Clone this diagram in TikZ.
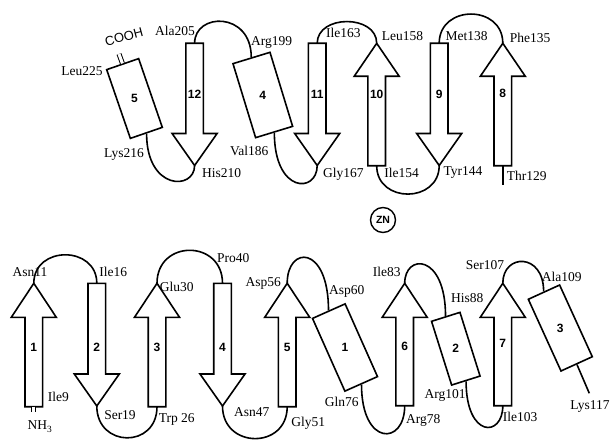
\documentclass[tikz,border=0pt]{standalone}
\usepackage{fontspec}
\setmainfont{Liberation Serif}
\setsansfont{Liberation Sans}
\usetikzlibrary{positioning}

\begin{document}
\begin{tikzpicture}[x=1pt, y=-1pt, line width=1.6pt,
        font=\fontsize{13.5}{15}\selectfont,
        lbl/.style={inner sep=0pt},
        num/.style={inner sep=0pt, font=\sffamily\bfseries\fontsize{12}{14}\selectfont},
        helix/.style={draw, inner sep=0pt},
        loop/.style={line join=round},
        stub/.style={double, line width=1pt, double distance=3pt}]
        \useasboundingbox (0,0) rectangle (610,441);
        % strands pointing down
        \foreach \n/\cx/\yt/\yb/\hl/\ly in {12/194.6/43.3/165.5/32/94, 11/317.2/43.3/165.5/32/94,
                9/439.2/43.3/165.5/32/94, 2/96.8/283.3/406/32/347, 4/222.5/283.3/406/32/347} {
            \draw ({\cx-8.8},\yt) -- ({\cx+8.8},\yt) -- ({\cx+8.8},{\yb-\hl}) -- ({\cx+22.5},{\yb-\hl})
                -- (\cx,\yb) -- ({\cx-22.5},{\yb-\hl}) -- ({\cx-8.8},{\yb-\hl}) -- cycle;
            \coordinate (s\n-t) at (\cx,\yt);
            \coordinate (s\n-b) at (\cx,\yb);
            \node[num] (n-s\n) at (\cx,\ly) {\n};
        }
        % strands pointing up
        \foreach \n/\cx/\yt/\yb/\hl/\ly in {10/376.7/43.3/165.7/33/94, 8/502.8/43.3/165.7/33/93,
                1/33.8/283.3/406.7/34/347, 3/157/283.3/406.7/34/347, 5/287.2/283.3/406.7/34/347,
                6/404.7/283.3/405.7/34/346, 7/502.8/283.3/405.7/34/343} {
            \draw (\cx,\yt) -- ({\cx+22.5},{\yt+\hl}) -- ({\cx+8.8},{\yt+\hl}) -- ({\cx+8.8},\yb)
                -- ({\cx-8.8},\yb) -- ({\cx-8.8},{\yt+\hl}) -- ({\cx-22.5},{\yt+\hl}) -- cycle;
            \coordinate (s\n-t) at (\cx,\yt);
            \coordinate (s\n-b) at (\cx,\yb);
            \node[num] (n-s\n) at (\cx,\ly) {\n};
        }
        % helices
        \node[helix, minimum width=33.8pt, minimum height=72.7pt, rotate=19]   (h5) at (134.5,98.5) {};
        \node[helix, minimum width=38.7pt, minimum height=77.4pt, rotate=17]   (h4) at (262.8,95) {};
        \node[helix, minimum width=35.7pt, minimum height=79.6pt, rotate=24]   (h1) at (345,347.5) {};
        \node[helix, minimum width=29.8pt, minimum height=66.8pt, rotate=17.5] (h2) at (455.8,348.7) {};
        \node[helix, minimum width=34.4pt, minimum height=78.8pt, rotate=24.5] (h3) at (560.3,328) {};
        \foreach \h in {5,4,1,2,3} \node[num] (n-h\h) at (h\h) {\h};
        % loops, upper sheet
        \draw[loop] (h5.south) .. controls +(0,57) and +(0,25) .. (s12-b);
        \draw[loop] (s12-t) .. controls +(0,-31) and +(0,-46) .. (h4.north);
        \draw[loop] (h4.south) .. controls +(0,61) and +(0,28) .. (s11-b);
        \draw[loop] (s11-t) .. controls +(0,-29) and +(0,-29) .. (s10-t);
        \draw[loop] (s10-b) .. controls +(0,38) and +(0,38) .. (s9-b);
        \draw[loop] (s9-t) .. controls +(0,-39) and +(0,-39) .. (s8-t);
        \coordinate (thr) at (502.8,185);
        \draw (s8-b) -- (thr);
        \coordinate (cooh-end) at (119,54);
        \draw[stub] (h5.north) -- (cooh-end);
        % loops, lower sheet
        \coordinate (nh-end) at (33.8,411.5);
        \draw[stub] (s1-b) -- (nh-end);
        \draw[loop] (s1-t) .. controls +(0,-38) and +(0,-38) .. (s2-t);
        \draw[loop] (s2-b) .. controls +(0,42) and +(0,42) .. (s3-b);
        \draw[loop] (s3-t) .. controls +(0,-44) and +(0,-44) .. (s4-t);
        \draw[loop] (s4-b) .. controls +(0,43) and +(0,43) .. (s5-b);
        \draw[loop] (s5-t) .. controls +(0,-38) and +(0,-66) .. (h1.north);
        \draw[loop] (h1.south) .. controls +(0,62) and +(0,40) .. (s6-b);
        \draw[loop] (s6-t) .. controls +(0,-30) and +(0,-63) .. (h2.north);
        \draw[loop] (h2.south) .. controls +(0,57) and +(0,32) .. (s7-b);
        \draw[loop] (s7-t) .. controls +(0,-30) and +(0,-39) .. (h3.north);
        \coordinate (lys) at (589.3,393.3);
        \draw (h3.south) -- (lys);
        % zinc
        \node[circle, draw, line width=1.4pt, minimum size=25pt, inner sep=0pt,
            font=\sffamily\bfseries\fontsize{10.5}{12}\selectfont] (zn) at (383,220) {ZN};
        % residue labels
        \node[lbl, font=\sffamily\fontsize{13}{15}\selectfont, rotate=15] (cooh) at (124,37) {COOH};
        \node[lbl] (nh3) at (40,426.7) {NH\textsubscript{3}};
        \foreach \t/\x/\y in {Leu225/82/71, Lys216/124/154, Ala205/175/30.7, His210/221.7/172.7,
                Arg199/271.7/42.7, Val186/249.3/150.7, Ile163/343.3/33.3, Gly167/343.3/174,
                Leu158/402.5/36, Ile154/401.7/173.3, Met138/466.7/36, Tyr144/463/173,
                Phe135/530/38.3, Thr129/526.7/175.7,
                Asn11/30/271.7, Ile16/113.3/271.7, Ile9/58.3/396.7, Ser19/120/415,
                Glu30/176.7/286.7, Trp 26/176.7/419.3, Pro40/233.3/258.3, Asn47/251.7/411.7,
                Asp56/263.3/283.3, Gly51/308.3/423.3, Asp60/346.7/291.7, Gln76/341.7/402.3,
                Ile83/386.7/272, Arg78/423.3/420, His88/467.3/298.3, Arg101/445/395.7,
                Ser107/485/265, Ile103/520/416.7, Ala109/561.7/276.7, Lys117/590/406.7}
            \node[lbl] (l-\t) at (\x,\y) {\t};
\end{tikzpicture}
\end{document}
